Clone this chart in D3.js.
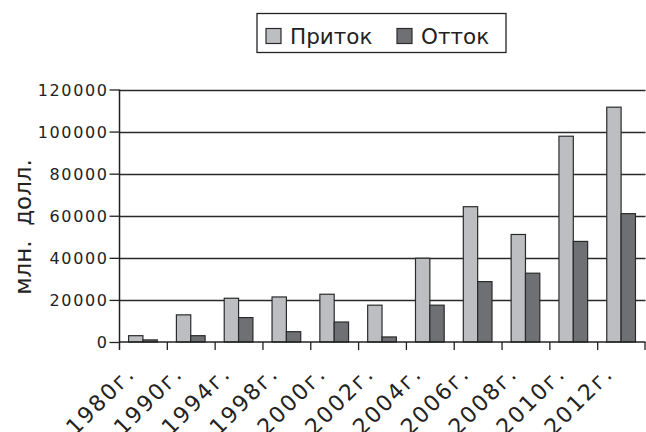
<!DOCTYPE html>
<html>
<head>
<meta charset="utf-8">
<script src="https://cdn.jsdelivr.net/npm/d3@7"></script>
<style>
  html, body { margin: 0; padding: 0; background: #fff; }
  svg { display: block; font-family: "DejaVu Sans", sans-serif; }
</style>
</head>
<body>
<svg id="chart" width="646" height="432"></svg>
<script>
const categories = ["1980г.", "1990г.", "1994г.", "1998г.", "2000г.", "2002г.", "2004г.", "2006г.", "2008г.", "2010г.", "2012г."];
const inflow  = [3000, 12900, 20800, 21400, 22700, 17500, 39800, 64300, 51100, 97800, 111600];
const outflow = [1000, 3000, 11600, 4900, 9500, 2400, 17500, 28700, 32700, 47800, 61000];
const seriesNames = ["Приток", "Отток"];
const yTicks = [0, 20000, 40000, 60000, 80000, 100000, 120000];
const yLabel = "млн.  долл.";

(function () {
const colors = ["#bdbec2", "#6f7074"];
const svg = d3.select("#chart");
const pL = 119.5, pR = 645.5, pT = 89.5, pB = 342;

const x0 = d3.scaleBand().domain(categories).range([pL, pR]);
const x1 = d3.scaleBand().domain(seriesNames)
  .range([x0.bandwidth() * 0.19, x0.bandwidth() * 0.79]);
const y = d3.scaleLinear().domain([0, 120000]).range([pB, pT]);

// gridlines
svg.append("g").selectAll("line").data(yTicks.filter(d => d > 0)).join("line")
  .attr("x1", pL).attr("x2", pR)
  .attr("y1", d => Math.round(y(d)) + 0.5).attr("y2", d => Math.round(y(d)) + 0.5)
  .attr("stroke", "#2a2a2a").attr("stroke-width", 1.3);

// bars
const rows = categories.map((c, i) => ({c, vals: [inflow[i], outflow[i]]}));
const g = svg.append("g");
rows.forEach(r => {
  r.vals.forEach((v, j) => {
    g.append("rect")
      .attr("x", x0(r.c) + x1(seriesNames[j]))
      .attr("y", y(v))
      .attr("width", x1.bandwidth())
      .attr("height", pB - y(v))
      .attr("fill", colors[j])
      .attr("stroke", "#2b2b2b").attr("stroke-width", 1.2);
  });
});

// y axis
const yAxis = d3.axisLeft(y).tickValues(yTicks).tickSize(10).tickPadding(1).tickFormat(d3.format("d"));
const ya = svg.append("g").attr("transform", `translate(${pL},0)`).call(yAxis);
ya.select(".domain").remove();
ya.selectAll(".tick line").attr("stroke", "#222").attr("stroke-width", 1.3);
ya.selectAll(".tick text").attr("font-size", 16).attr("letter-spacing", "1.6px")
  .attr("fill", "#222").attr("font-family", "DejaVu Sans").attr("dy", "0.36em");
svg.append("line").attr("x1", pL).attr("x2", pL).attr("y1", pT).attr("y2", pB + 8)
  .attr("stroke", "#222").attr("stroke-width", 1.5);

// x axis
svg.append("line").attr("x1", pL).attr("x2", pR).attr("y1", pB).attr("y2", pB)
  .attr("stroke", "#222").attr("stroke-width", 1.5);
svg.append("g").selectAll("line").data(categories.slice(1).concat(["end"])).join("line")
  .attr("x1", (d, i) => i < categories.length - 1 ? x0(d) : pR - 0.5)
  .attr("x2", (d, i) => i < categories.length - 1 ? x0(d) : pR - 0.5)
  .attr("y1", pB).attr("y2", pB + 8)
  .attr("stroke", "#222").attr("stroke-width", 1.3);

svg.append("g").selectAll("text").data(categories).join("text")
  .attr("transform", d => `translate(${x0(d) + x0.bandwidth() / 2 - 7},${pB + 33}) rotate(-45)`)
  .attr("text-anchor", "end")
  .attr("font-size", 22).attr("letter-spacing", "2px")
  .attr("fill", "#222")
  .text(d => d);

// y label
svg.append("text")
  .attr("transform", `translate(30.5,227) rotate(-90)`)
  .attr("text-anchor", "middle")
  .attr("font-size", 23).attr("fill", "#222")
  .style("white-space", "pre")
  .text(yLabel);

// legend
const lg = svg.append("g");
lg.append("rect").attr("x", 257).attr("y", 13.5).attr("width", 249).attr("height", 39)
  .attr("fill", "#fff").attr("stroke", "#222").attr("stroke-width", 1.3);
const legX = [266, 397];
seriesNames.forEach((s, i) => {
  lg.append("rect").attr("x", legX[i]).attr("y", 28.5).attr("width", 15).attr("height", 15)
    .attr("fill", colors[i]).attr("stroke", "#2b2b2b").attr("stroke-width", 1.2);
  lg.append("text").attr("x", legX[i] + 24).attr("y", 43.5)
    .attr("font-size", 21.5).attr("fill", "#222").text(s);
});
})();
</script>
</body>
</html>
